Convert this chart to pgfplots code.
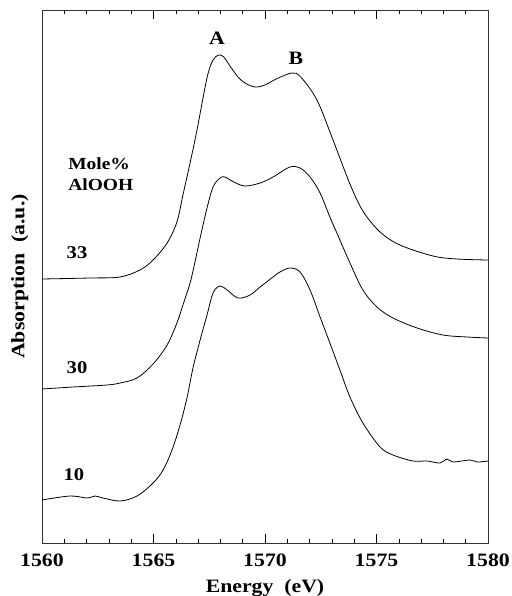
\documentclass[border=0pt]{standalone}
\usepackage{pgfplots}
\pgfplotsset{compat=1.18}
\usepackage{fontspec}
\setmainfont{Liberation Serif}[FakeStretch=1.15]
\pgfplotstableread{
E row
1560.00 279
1562.15 278
1563.50 277
1564.39 270
1564.98 260
1565.61 243
1566.05 222
1566.32 195
1566.64 163
1566.95 130
1567.22 98
1567.44 74
1567.67 60
1567.92 55
1568.15 57
1568.43 66
1568.79 77
1569.10 83
1569.55 87
1570.00 85
1570.50 79
1571.21 73
1571.60 77
1572.33 100
1573.05 140
1573.81 184
1574.39 211
1575.16 232
1576.05 245
1577.53 256
1578.61 259
1580.00 260
}\curveA
\pgfplotstableread{
E row
1560.00 389
1561.39 387
1562.91 385
1563.50 383
1564.26 378
1564.98 364
1565.61 345
1566.05 323
1566.32 305
1566.64 283
1566.86 262
1567.09 238
1567.40 208
1567.67 187
1567.98 178
1568.20 177
1568.60 182
1569.10 186
1569.78 183
1570.36 177
1571.12 167
1571.57 168
1572.02 177
1572.47 193
1572.91 217
1573.36 240
1573.81 263
1574.39 290
1575.02 307
1575.74 318
1576.82 328
1577.98 335
1579.06 337
1580.00 338
}\curveB
\pgfplotstableread{
E row
1560.00 500
1561.26 496
1562.02 498
1562.38 496
1562.74 498
1563.50 501
1564.26 496
1564.98 483
1565.43 470
1565.83 450
1566.19 425
1566.50 398
1566.77 368
1567.09 340
1567.40 315
1567.67 293
1567.98 286
1568.30 290
1568.79 298
1569.33 295
1569.78 287
1570.36 277
1570.67 272
1571.12 268
1571.57 272
1572.02 290
1572.47 317
1572.91 343
1573.36 370
1573.81 397
1574.39 423
1575.16 447
1575.74 455
1576.64 461
1577.26 461
1577.85 463
1578.16 459
1578.43 462
1579.19 460
1579.51 462
1580.00 461
}\curveC
\begin{document}
\begin{tikzpicture}
\useasboundingbox (-42bp,-53bp) rectangle (470bp,543bp);
\begin{axis}[
  scale only axis, width=446bp, height=533bp,
  xmin=1560, xmax=1580, ymin=10, ymax=543, y dir=reverse,
  xtick={1560,1565,1570,1575,1580}, minor x tick num=4,
  ytick=\empty,
  tick align=inside,
  xtick pos=both,
  major tick length=9bp, minor tick length=4bp,
  /pgf/number format/assume math mode=true,
  /pgf/number format/1000 sep={},
  xticklabel style={font=\fontsize{19}{19}\selectfont\bfseries, yshift=-7bp},
  xlabel={Energy\ \ (eV)},
  xlabel style={font=\fontsize{19}{19}\selectfont\bfseries, yshift=-6bp},
  ylabel={Absorption\ \ (a.u.)},
  ylabel style={font=\fontsize{19}{19}\selectfont\bfseries, yshift=10bp},
  axis line style={line width=0.6pt, black!80},
  every tick/.style={black, line width=0.6pt},
  clip=false,
]
\addplot[black, line width=0.8pt, smooth, tension=0.55] table[x=E,y=row] {\curveA};
\addplot[black, line width=0.8pt, smooth, tension=0.55] table[x=E,y=row] {\curveB};
\addplot[black, line width=0.8pt, smooth, tension=0.55] table[x=E,y=row] {\curveC};
\node[font=\fontsize{19}{19}\selectfont\bfseries] at (axis cs:1567.85,38) {A};
\node[font=\fontsize{19}{19}\selectfont\bfseries] at (axis cs:1571.39,58) {B};
\node[font=\fontsize{17}{21}\selectfont\bfseries, align=left, anchor=west, inner sep=0pt] at (axis cs:1561.17,174) {Mole\%\\AlOOH};
\node[font=\fontsize{18}{18}\selectfont\bfseries] at (axis cs:1561.57,253) {33};
\node[font=\fontsize{18}{18}\selectfont\bfseries] at (axis cs:1561.57,368) {30};
\node[font=\fontsize{18}{18}\selectfont\bfseries] at (axis cs:1561.43,475) {10};
\end{axis}
\end{tikzpicture}
\end{document}
